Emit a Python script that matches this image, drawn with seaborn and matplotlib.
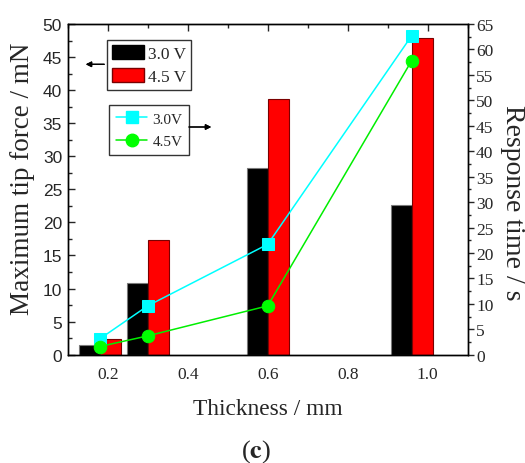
import numpy as np
import pandas as pd
import matplotlib
matplotlib.use("Agg")
import matplotlib.pyplot as plt
from matplotlib.patches import Patch
from matplotlib.lines import Line2D
from matplotlib.ticker import MultipleLocator
import seaborn as sns

# Sample thickness (mm)
thickness = [0.18, 0.30, 0.60, 0.96]
# Maximum tip force (mN) at each drive voltage
force_3v = [1.5, 10.8, 28.3, 22.7]
force_45v = [2.3, 17.3, 38.6, 47.9]
# Response time (s) at each drive voltage
resp_3v = [3.1, 9.6, 21.7, 62.7]
resp_45v = [1.6, 3.7, 9.6, 57.8]
voltages = ["3.0 V", "4.5 V"]

sns.set_style("white")
plt.rcParams["font.family"] = ["Liberation Serif", "DejaVu Serif"]
plt.rcParams["mathtext.fontset"] = "stix"

serif = "Liberation Serif"
sans = "Liberation Sans"

df = pd.DataFrame({
    "thickness": thickness * 2,
    "force": force_3v + force_45v,
    "voltage": [voltages[0]] * len(thickness) + [voltages[1]] * len(thickness),
})

fig = plt.figure(figsize=(5.25, 4.64), dpi=100)
W, H = 525, 464
ax = fig.add_axes([67.7 / W, 1 - 355.7 / H, 400 / W, 330.7 / H])

sns.barplot(data=df, x="thickness", y="force", hue="voltage",
            palette=["black", "#FF0000"], saturation=1, native_scale=True,
            width=0.867, errorbar=None, legend=False, ax=ax, linewidth=0.8)
for bar in ax.containers[0]:
    bar.set_edgecolor("#7a7a7a")
for bar in ax.containers[1]:
    bar.set_edgecolor("#7a0000")

ax.set_xlim(0.1, 1.1)
ax.set_ylim(0, 50)
ax.xaxis.set_major_locator(MultipleLocator(0.2))
ax.xaxis.set_minor_locator(MultipleLocator(0.1))
ax.yaxis.set_major_locator(MultipleLocator(5))
ax.yaxis.set_minor_locator(MultipleLocator(2.5))
ax.set_xticks([0.2, 0.4, 0.6, 0.8, 1.0])
ax.set_xticklabels(["0.2", "0.4", "0.6", "0.8", "1.0"])
ax.set_xlabel("")
ax.set_ylabel("")
ax.tick_params(axis="both", which="both", direction="in", top=True, right=False)
ax.tick_params(axis="both", which="major", length=5, width=1)
ax.tick_params(axis="both", which="minor", length=3, width=1)
ax.tick_params(axis="y", labelsize=12.5, labelfontfamily=sans, pad=4)
ax.tick_params(axis="x", labelsize=12.5, labelfontfamily=serif, pad=8)
for s in ax.spines.values():
    s.set_linewidth(1.0)
    s.set_color("black")

ax2 = ax.twinx()
sns.lineplot(x=thickness, y=resp_3v, ax=ax2, color="#00FFFF", marker="s",
             markersize=8, markeredgecolor="#00FFFF", linewidth=1.1)
sns.lineplot(x=thickness, y=resp_45v, ax=ax2, color="#00EE00", marker="o",
             markersize=9, markerfacecolor="#00FF00",
             markeredgecolor="#00FF00", linewidth=1.1)
ax2.set_ylim(0, 65)
ax2.yaxis.set_major_locator(MultipleLocator(5))
ax2.yaxis.set_minor_locator(MultipleLocator(2.5))
ax2.tick_params(axis="y", which="both", direction="out", right=True)
ax2.tick_params(axis="y", which="major", length=4, width=1)
ax2.tick_params(axis="y", which="minor", length=2.5, width=1)
ax2.tick_params(axis="y", labelsize=12.5, labelfontfamily=serif, pad=2)
ax2.set_ylabel("")
for s in ax2.spines.values():
    s.set_linewidth(1.0)
    s.set_color("black")

# Axis titles and panel tag
fig.text(23 / W, 1 - 179 / H, "Maximum tip force / mN", rotation=90,
         ha="center", va="center", fontsize=19.5, family=serif)
fig.text(513 / W, 1 - 203 / H, "Response time / s", rotation=270,
         ha="center", va="center", fontsize=20, family=serif)
fig.text(268 / W, 1 - 410 / H, "Thickness / mm", ha="center", va="center",
         fontsize=16.8, family=serif)
fig.text(256 / W, 1 - 452 / H, r"($\mathbf{c}$)", ha="center", va="center",
         fontsize=19, family=serif)

# Legends for the bar (left axis) and line (right axis) series
bar_handles = [Patch(facecolor="black", edgecolor="black", label=voltages[0]),
               Patch(facecolor="#FF0000", edgecolor="#7a0000", label=voltages[1])]
leg1 = ax2.legend(handles=bar_handles, loc="upper left",
                  bbox_to_anchor=(107 / W, 1 - 40.7 / H),
                  bbox_transform=fig.transFigure, frameon=True, fancybox=False,
                  prop={"family": serif, "size": 12.5}, handlelength=1.85,
                  handleheight=0.85, handletextpad=0.2, borderpad=0.3,
                  labelspacing=0.35, borderaxespad=0)
leg1.get_frame().set_edgecolor("black")
leg1.get_frame().set_linewidth(1.0)
ax2.add_artist(leg1)

line_handles = [Line2D([], [], color="#00FFFF", marker="s", markersize=8,
                       markeredgecolor="#00FFFF", linewidth=1.1, label="3.0V"),
                Line2D([], [], color="#00EE00", marker="o", markersize=9,
                       markerfacecolor="#00FF00", markeredgecolor="#00FF00",
                       linewidth=1.1, label="4.5V")]
leg2 = ax2.legend(handles=line_handles, loc="upper left",
                  bbox_to_anchor=(109 / W, 1 - 106 / H),
                  bbox_transform=fig.transFigure, frameon=True, fancybox=False,
                  prop={"family": serif, "size": 11}, handlelength=2.05,
                  handletextpad=0.35, borderpad=0.45, labelspacing=0.6,
                  borderaxespad=0)
leg2.get_frame().set_edgecolor("black")
leg2.get_frame().set_linewidth(1.0)

# Arrows pointing each legend to its axis
arrow = dict(arrowstyle="-|>", color="black", lw=0.9, mutation_scale=8)
fig.add_artist(plt.annotate("", xy=(83 / W, 1 - 65.3 / H),
                            xytext=(107 / W, 1 - 65.3 / H),
                            xycoords="figure fraction",
                            textcoords="figure fraction", arrowprops=arrow))
fig.add_artist(plt.annotate("", xy=(214 / W, 1 - 128 / H),
                            xytext=(186 / W, 1 - 128 / H),
                            xycoords="figure fraction",
                            textcoords="figure fraction", arrowprops=arrow))

fig.savefig("out.png", dpi=100)
